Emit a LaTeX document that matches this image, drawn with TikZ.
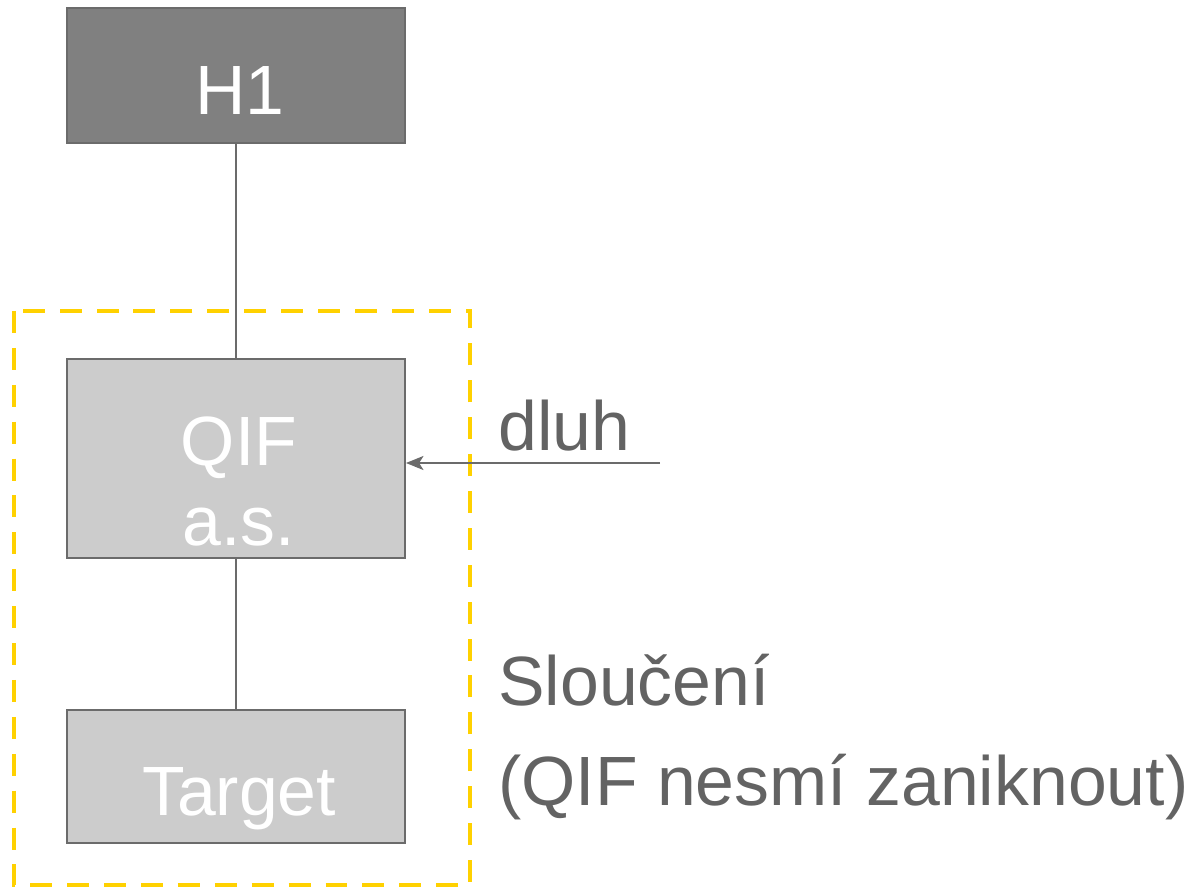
\documentclass[tikz,border=0pt]{standalone}
\usepackage{fontspec}
\setmainfont{Liberation Sans}
\usepackage{tikz}
\usetikzlibrary{arrows.meta, positioning}
\definecolor{BoxDark}{rgb}{0.502, 0.502, 0.502}
\definecolor{BoxLight}{rgb}{0.800, 0.800, 0.800}
\definecolor{EdgeGray}{rgb}{0.420, 0.420, 0.420}
\definecolor{TextGray}{rgb}{0.388, 0.388, 0.388}
\definecolor{MergeGold}{rgb}{1.000, 0.820, 0.000}

\begin{document}
\begin{tikzpicture}[x=0.02cm, y=-0.02cm,
		entity/.style={draw=EdgeGray, line width=1.1pt, minimum width=6.76cm, inner sep=0pt},
		boxtext/.style={anchor=base, text=white, font=\fontsize{39.7}{48}\selectfont, inner sep=0pt},
		sidetext/.style={anchor=base west, text=TextGray, font=\fontsize{39.7}{48}\selectfont, inner sep=0pt},
		link/.style={draw=EdgeGray, line width=0.85pt},
		]
		\useasboundingbox (0,0) rectangle (1193,888);
		% merger frame
		\draw[MergeGold, line width=2.6pt, dash pattern=on 12.5pt off 8.5pt] (14,311) rectangle (470,885);
		% companies
		\node[entity, fill=BoxDark, minimum height=2.7cm] (h1) at (236,75.5) {};
		\node[entity, fill=BoxLight, minimum height=3.98cm] (qif) at (236,458.5) {};
		\node[entity, fill=BoxLight, minimum height=2.66cm] (target) at (236,776.5) {};
		\node[boxtext] (h1-t) at (240,115) {H1};
		\node[boxtext] (qif-t1) at (239,465) {QIF};
		\node[boxtext] (qif-t2) at (239,545) {a.s.};
		\node[boxtext] (target-t) at (239,815) {Target};
		% ownership
		\draw[link] (h1) -- (qif);
		\draw[link] (qif) -- (target);
		% debt
		\coordinate (debt-in) at (660,463);
		\draw[link, line width=1pt, -{Stealth[length=10pt, width=8pt, inset=2.5pt]}] (debt-in) -- (qif.east |- debt-in);
		\node[sidetext] (debt) at (498,450) {dluh};
		\node[sidetext] (merge) at (498,705) {Sloučení};
		\node[sidetext] (merge-note) at (498,805) {(QIF nesmí zaniknout)};
	\end{tikzpicture}
\end{document}
